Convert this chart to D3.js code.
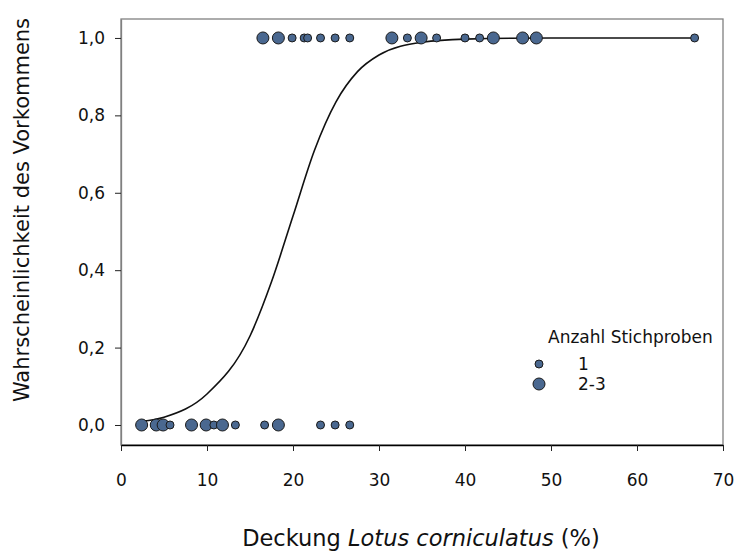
<!DOCTYPE html>
<html>
<head>
<meta charset="utf-8">
<script src="https://cdn.jsdelivr.net/npm/d3@7"></script>
<style>
  body { margin: 0; background: #fff; }
  text { font-family: "DejaVu Sans", sans-serif; fill: #111; }
</style>
</head>
<body>
<div id="main"></div>
<script>
// Deckung (%) of the observations, presence (1) / absence (0), samples per point
var coverage = [16.5, 18.3, 19.9, 21.3, 21.7, 23.2, 24.9, 26.6, 31.5, 33.3, 34.9, 36.7, 40.0, 41.7, 43.3, 46.7, 48.3, 66.7,
  2.4, 4.1, 4.9, 5.7, 8.2, 9.9, 10.8, 11.8, 13.3, 16.7, 18.3, 23.2, 24.9, 26.6];
var occurrence = [1, 1, 1, 1, 1, 1, 1, 1, 1, 1, 1, 1, 1, 1, 1, 1, 1, 1,
  0, 0, 0, 0, 0, 0, 0, 0, 0, 0, 0, 0, 0, 0];
var sampleCount = ['2-3', '2-3', '1', '1', '1', '1', '1', '1', '2-3', '1', '2-3', '1', '1', '1', '2-3', '2-3', '2-3', '1',
  '2-3', '2-3', '2-3', '1', '2-3', '2-3', '1', '2-3', '1', '1', '2-3', '1', '1', '1'];

// fitted logistic curve
var curveX = [2.4, 5, 10, 15, 17.5, 20, 22.5, 25, 27.5, 30, 35, 40, 50, 66.7];
var curveP = [0.009, 0.02, 0.08, 0.23, 0.37, 0.54, 0.71, 0.835, 0.913, 0.956, 0.989, 0.997, 1.0, 1.0];

var xTicks = [0, 10, 20, 30, 40, 50, 60, 70];
var yTicks = [0, 0.2, 0.4, 0.6, 0.8, 1.0];
var legendLabels = ['1', '2-3'];

var width = 739;
var height = 553;
var margin = {left: 121, top: 19, right: 16, bottom: 108};

var svg = d3.select('#main').append('svg').attr('width', width).attr('height', height);

var xScale = d3.scaleLinear().domain([0, 70]).range([margin.left, width - margin.right]);
var yScale = d3.scaleLinear().domain([-0.0517, 1.049]).range([height - margin.bottom, margin.top]);
var rScale = d3.scaleOrdinal().domain(legendLabels).range([4, 6]);

var fmt = function (d) {
  return d3.format('.1f')(d).replace('.', ',');
};

// frame
svg.append('rect')
  .attr('x', margin.left)
  .attr('y', margin.top)
  .attr('width', width - margin.right - margin.left)
  .attr('height', height - margin.bottom - margin.top)
  .attr('fill', 'none')
  .attr('stroke', '#808080')
  .attr('stroke-width', 1.3);

var yAxis = svg.append('g')
  .attr('transform', 'translate(' + margin.left + ',0)')
  .call(d3.axisLeft(yScale).tickValues(yTicks).tickFormat(fmt).tickSize(6).tickSizeOuter(0).tickPadding(10));
yAxis.select('.domain').attr('stroke', '#808080').attr('stroke-width', 1.3);
yAxis.selectAll('.tick line').attr('stroke', '#222');
yAxis.selectAll('text').attr('font-size', 17).attr('font-family', '"DejaVu Sans", sans-serif');

var xAxis = svg.append('g')
  .attr('transform', 'translate(0,' + (height - margin.bottom) + ')')
  .call(d3.axisBottom(xScale).tickValues(xTicks).tickSize(6).tickSizeOuter(0).tickPadding(23));
xAxis.select('.domain').attr('stroke', '#000').attr('stroke-width', 1.5);
xAxis.selectAll('.tick line').attr('stroke', '#222');
xAxis.selectAll('text').attr('font-size', 17).attr('font-family', '"DejaVu Sans", sans-serif');

// curve
var curveData = curveX.map(function (d, i) {
  return {x: d, p: curveP[i]};
});

var lineGenerator = d3.line()
  .x(function (d) {
    return xScale(d.x)
  })
  .y(function (d) {
    return yScale(d.p)
  })
  .curve(d3.curveMonotoneX);

svg.append('path')
  .datum(curveData)
  .attr('fill', 'none')
  .attr('stroke', '#111')
  .attr('stroke-width', 1.6)
  .attr('d', lineGenerator);

// points
var points = coverage.map(function (d, i) {
  return {x: d, y: occurrence[i], n: sampleCount[i]};
});

svg.selectAll('.pt')
  .data(points)
  .enter()
  .append('circle')
  .attr('class', 'pt')
  .attr('cx', function (d) {
    return xScale(d.x)
  })
  .attr('cy', function (d) {
    return yScale(d.y)
  })
  .attr('r', function (d) {
    return rScale(d.n)
  })
  .attr('fill', '#4a6890')
  .attr('stroke', '#1a1a1a')
  .attr('stroke-width', 1);

// legend
var legend = svg.append('g');

legend.append('text')
  .attr('x', 548)
  .attr('y', 343)
  .attr('font-size', 17)
  .text('Anzahl Stichproben');

legendLabels.forEach(function (d, i) {
  var y = 364 + i * 20;
  legend.append('circle')
    .attr('cx', 539)
    .attr('cy', y)
    .attr('r', rScale(d))
    .attr('fill', '#4a6890')
    .attr('stroke', '#1a1a1a')
    .attr('stroke-width', 1);
  legend.append('text')
    .attr('x', 578)
    .attr('y', y)
    .attr('dy', '0.35em')
    .attr('font-size', 17)
    .text(d);
});

// axis titles
svg.append('text')
  .attr('transform', 'translate(29,' + 210 + ') rotate(-90)')
  .attr('text-anchor', 'middle')
  .attr('font-size', 21)
  .text('Wahrscheinlichkeit des Vorkommens');

var xTitle = svg.append('text')
  .attr('x', 421)
  .attr('y', 546)
  .attr('text-anchor', 'middle')
  .attr('font-size', 22.5);
xTitle.append('tspan').text('Deckung ');
xTitle.append('tspan').attr('font-style', 'italic').text('Lotus corniculatus');
xTitle.append('tspan').text(' (%)');
</script>
</body>
</html>
